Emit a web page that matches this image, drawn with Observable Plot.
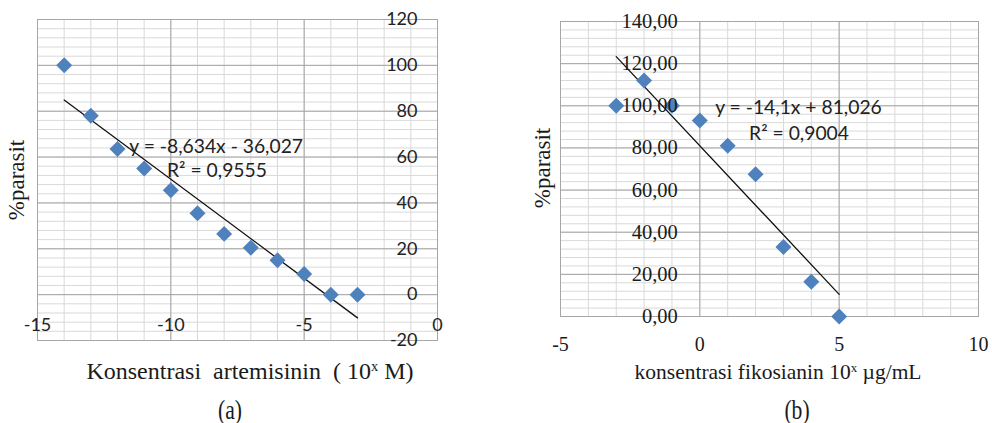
<!DOCTYPE html>
<html><head><meta charset="utf-8">
<script src="https://cdn.jsdelivr.net/npm/d3@7"></script>
<script src="https://cdn.jsdelivr.net/npm/@observablehq/plot@0.6"></script>
<style>
html,body{margin:0;padding:0;background:#fff;}
#wrap{position:relative;width:992px;height:423px;overflow:hidden;background:#fff;}
.lbl{position:absolute;font-family:"Liberation Serif","Times New Roman",serif;color:#1a1a1a;white-space:pre;line-height:1;}
.lbl sup{font-size:0.6em;vertical-align:0.55em;line-height:0;}
</style></head><body><div id="wrap"></div>
<script>
// ---- Chart (a): artemisinin ----
const concA = [-14, -13, -12, -11, -10, -9, -8, -7, -6, -5, -4, -3];
const parasitA = [100, 78, 63.5, 55, 45.5, 35.5, 26.5, 20.5, 15, 9, 0, 0];
const slopeA = -8.634, interceptA = -36.027;
const eqA = "y = -8,634x - 36,027";
const r2A = "R² = 0,9555";
const yTicksA = [-20, 0, 20, 40, 60, 80, 100, 120];
const yLabelsA = ["-20", "0", "20", "40", "60", "80", "100", "120"];
const xTicksA = [-15, -10, -5, 0];
const xLabelsA = ["-15", "-10", "-5", "0"];

// ---- Chart (b): fikosianin ----
const concB = [-3, -2, -1, 0, 1, 2, 3, 4, 5];
const parasitB = [100, 112, 100, 93, 81, 67.5, 33, 16.5, 0];
const slopeB = -14.1, interceptB = 81.026;
const eqB = "y = -14,1x + 81,026";
const r2B = "R² = 0,9004";
const yTicksB = [0, 20, 40, 60, 80, 100, 120, 140];
const yLabelsB = ["0,00", "20,00", "40,00", "60,00", "80,00", "100,00", "120,00", "140,00"];
const xTicksB = [-5, 0, 5, 10];
const xLabelsB = ["-5", "0", "5", "10"];

const minorC = "#d9d9d9", majorC = "#a6a6a6", blue = "#4F81BD";
const sans = "Lato, 'Open Sans', sans-serif";
const serif = "'Liberation Serif', 'Times New Roman', serif";

function trend(xs, m, b) {
  const x0 = d3.min(xs), x1 = d3.max(xs);
  return [{x: x0, y: m * x0 + b}, {x: x1, y: m * x1 + b}];
}
const dataA = concA.map((x, i) => ({x, y: parasitA[i]}));
const dataB = concB.map((x, i) => ({x, y: parasitB[i]}));
const yTabA = yTicksA.map((v, i) => ({v, t: yLabelsA[i]}));
const xTabA = xTicksA.map((v, i) => ({v, t: xLabelsA[i]}));
const yTabB = yTicksB.map((v, i) => ({v, t: yLabelsB[i]}));
const xTabB = xTicksB.map((v, i) => ({v, t: xLabelsB[i]}));

const plotA = Plot.plot({
  width: 470, height: 390,
  marginLeft: 37, marginRight: 33, marginTop: 19, marginBottom: 50,
  x: {domain: [-15, 0], axis: null},
  y: {domain: [-20, 120], axis: null},
  marks: [
    Plot.ruleY(d3.range(-20, 121, 4), {stroke: minorC}),
    Plot.ruleX(d3.range(-15, 1, 1), {stroke: minorC}),
    Plot.ruleY(yTicksA, {stroke: majorC}),
    Plot.ruleX(xTicksA, {stroke: majorC}),
    Plot.frame({stroke: majorC}),
    Plot.line(trend(concA, slopeA, interceptA), {x: "x", y: "y", stroke: "#111", strokeWidth: 1.3}),
    Plot.dot(dataA, {x: "x", y: "y", symbol: "diamond2", r: 7.2, fill: blue}),
    Plot.text(yTabA, {x: 0, y: "v", text: "t", dx: -20, textAnchor: "end", fontFamily: sans, fontSize: 18, fill: "#222"}),
    Plot.text(xTabA, {x: "v", y: 0, text: "t", dy: 30.5, fontFamily: sans, fontSize: 18, fill: "#222"}),
    Plot.text([{x: -8.3, y: 64.6, t: eqA}, {x: -8.27, y: 54.1, t: r2A}], {x: "x", y: "y", text: "t", fontFamily: sans, fontSize: 19.3, fill: "#222"})
  ]
});

const plotB = Plot.plot({
  width: 492, height: 390,
  marginLeft: 60, marginRight: 14, marginTop: 21, marginBottom: 74,
  x: {domain: [-5, 10], axis: null},
  y: {domain: [0, 140], axis: null},
  marks: [
    Plot.ruleY(d3.range(0, 141, 4), {stroke: minorC}),
    Plot.ruleX(d3.range(-5, 11, 1), {stroke: minorC}),
    Plot.ruleY(yTicksB, {stroke: majorC}),
    Plot.ruleX(xTicksB, {stroke: majorC}),
    Plot.frame({stroke: majorC}),
    Plot.line(trend(concB, slopeB, interceptB), {x: "x", y: "y", stroke: "#111", strokeWidth: 1.3}),
    Plot.dot(dataB, {x: "x", y: "y", symbol: "diamond2", r: 7.2, fill: blue}),
    Plot.text(yTabB, {x: 0, y: "v", text: "t", dx: -22, textAnchor: "end", fontFamily: serif, fontSize: 20.5, fill: "#1a1a1a", style: {letterSpacing: "0.8px"}}),
    Plot.text(xTabB, {x: "v", y: 0, text: "t", dy: 28.4, fontFamily: serif, fontSize: 20, fill: "#1a1a1a"}),
    Plot.text([{x: 3.54, y: 99.2, t: eqB}, {x: 3.56, y: 86.9, t: r2B}], {x: "x", y: "y", text: "t", fontFamily: sans, fontSize: 19.3, fill: "#222"})
  ]
});

const wrap = document.getElementById("wrap");
for (const [el, left] of [[plotA, 0], [plotB, 500]]) {
  el.style.position = "absolute";
  el.style.left = left + "px";
  el.style.top = "0px";
  el.style.background = "transparent";
  el.style.overflow = "visible";
  wrap.appendChild(el);
}

function label(html, css) {
  const d = document.createElement("div");
  d.className = "lbl";
  d.innerHTML = html;
  Object.assign(d.style, css);
  wrap.appendChild(d);
  return d;
}
// axis titles
label("Konsentrasi  artemisinin  ( 10<sup>x</sup> M)", {left: "250px", top: "359px", fontSize: "24px", transform: "translateX(-50%)"});
label("konsentrasi fikosianin 10<sup>x</sup> µg/mL", {left: "778px", top: "361.5px", fontSize: "21.5px", transform: "translateX(-50%)"});
label("%parasit", {left: "15.5px", top: "180px", fontSize: "23px", transform: "translate(-50%,-50%) rotate(-90deg)"});
label("%parasit", {left: "542px", top: "167.5px", fontSize: "23px", transform: "translate(-50%,-50%) rotate(-90deg)"});
// panel captions
label("(a)", {left: "230px", top: "409.5px", fontSize: "27px", transform: "translate(-50%,-50%) scaleX(0.8)"});
label("(b)", {left: "797px", top: "409.5px", fontSize: "27px", transform: "translate(-50%,-50%) scaleX(0.8)"});
</script>
</body></html>
